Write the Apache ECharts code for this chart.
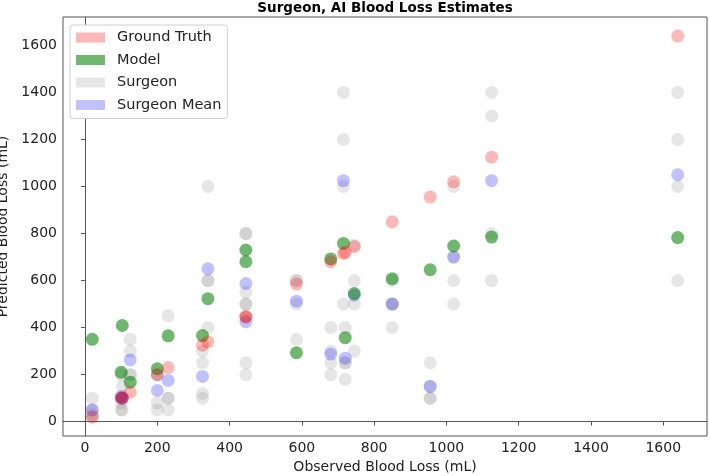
<!DOCTYPE html>
<html><head><meta charset="utf-8">
<script src="https://cdn.jsdelivr.net/npm/echarts@6/dist/echarts.min.js"></script>
<style>html,body{margin:0;padding:0;background:#fff}#c{width:710px;height:476px}</style>
</head><body><div id="c"></div>
<script>
// Observed blood loss per case (mL) -> x; ground truth lies on y = x
const observed    = [20, 100, 103, 125, 200, 230, 325, 340, 445, 445, 585, 680, 715, 720, 745, 850, 955, 1020, 1125, 1640];
const groundTruth = [20, 100, 103, 125, 200, 230, 325, 340, 445, 445, 585, 680, 715, 720, 745, 850, 955, 1020, 1125, 1640];
const model       = [350, 210, 409, 168, 225, 365, 366, 523, 730, 680, 293, 692, 758, 357, 545, 608, 646, 747, 785, 783];
// four surgeon estimates per case
const surgeonA    = [100, 200, 150, 350, 200, 450, 300, 1000, 800, 550, 600, 400, 1400, 400, 750, 600, 250, 1000, 1400, 1400];
const surgeonB    = [50, 100, 100, 300, 200, 100, 250, 600, 800, 500, 600, 300, 1200, 250, 600, 500, 150, 700, 1300, 1200];
const surgeonC    = [30, 80, 100, 200, 80, 100, 120, 600, 500, 450, 500, 250, 1000, 250, 500, 500, 100, 600, 800, 1000];
const surgeonD    = [20, 50, 50, 200, 50, 50, 100, 400, 250, 200, 350, 200, 500, 180, 300, 400, 100, 500, 600, 600];
const surgeonMean = [50, 107.5, 100, 262.5, 132.5, 175, 192.5, 650, 587.5, 425, 512.5, 287.5, 1025, 270, 537.5, 500, 150, 700, 1025, 1050];
const xTicks = [0, 200, 400, 600, 800, 1000, 1200, 1400, 1600];
const yTicks = [0, 200, 400, 600, 800, 1000, 1200, 1400, 1600];

const pairs = ys => observed.map((x, i) => [x, ys[i]]);
const surgeonData = [];
[surgeonA, surgeonB, surgeonC, surgeonD].forEach(arr => arr.forEach((v, i) => surgeonData.push([observed[i], v])));

const FONT = 'DejaVu Sans';
const AX = '#555';
function axis(name, ticks, gap, isY) {
  return {
    type: 'value', min: -61, max: 1721, minInterval: 200, maxInterval: 200,
    name: name, nameLocation: 'middle', nameGap: gap,
    nameTextStyle: {fontFamily: FONT, fontSize: 14, color: '#222'},
    axisLine: {show: true, lineStyle: {color: AX, width: 1}},
    axisTick: {show: true, length: 4, lineStyle: {color: AX}, customValues: ticks},
    axisLabel: {fontFamily: FONT, fontSize: 14, color: '#222', margin: isY ? 6 : 5, customValues: ticks,
                formatter: v => String(v)},
    splitLine: {show: false}
  };
}
const S = 13;
const chart = echarts.init(document.getElementById('c'));
chart.setOption({
  animation: false,
  backgroundColor: '#fff',
  title: {text: 'Surgeon, AI Blood Loss Estimates', left: 385, top: 1, padding: 0, textAlign: 'center',
          textStyle: {fontFamily: FONT, fontSize: 13.5, fontWeight: 'bold', color: '#000'}},
  grid: {left: 63, right: 3, top: 17, bottom: 40, show: true, borderColor: AX, borderWidth: 1,
         backgroundColor: 'transparent', outerBoundsMode: 'none'},
  legend: {
    data: ['Ground Truth', 'Model', 'Surgeon', 'Surgeon Mean'],
    orient: 'vertical', left: 70, top: 25, padding: [5, 6, 6, 6],
    itemWidth: 29, itemHeight: 10, itemGap: 7.5, icon: 'rect',
    backgroundColor: '#fff', borderColor: '#d0d0d0', borderWidth: 1, borderRadius: 3,
    textStyle: {fontFamily: FONT, fontSize: 14.5, color: '#222', padding: [0, 0, 0, 7]}
  },
  xAxis: axis('Observed Blood Loss (mL)', xTicks, 24, false),
  yAxis: axis('Predicted Blood Loss (mL)', yTicks, 44, true),
  series: [
    {name: 'Surgeon', type: 'scatter', symbolSize: S, data: surgeonData,
     itemStyle: {color: 'rgba(128,128,128,0.25)'}, emphasis: {disabled: true}},
    {name: 'Surgeon Mean', type: 'scatter', symbolSize: S, data: pairs(surgeonMean),
     itemStyle: {color: 'rgba(0,0,255,0.3)'}, emphasis: {disabled: true}},
    {name: 'Model', type: 'scatter', symbolSize: S, data: pairs(model),
     itemStyle: {color: 'rgba(0,128,0,0.7)'}, emphasis: {disabled: true}},
    {name: 'Ground Truth', type: 'scatter', symbolSize: S, data: pairs(groundTruth),
     itemStyle: {color: 'rgba(255,0,0,0.35)'}, emphasis: {disabled: true}}
  ]
});
</script></body></html>
